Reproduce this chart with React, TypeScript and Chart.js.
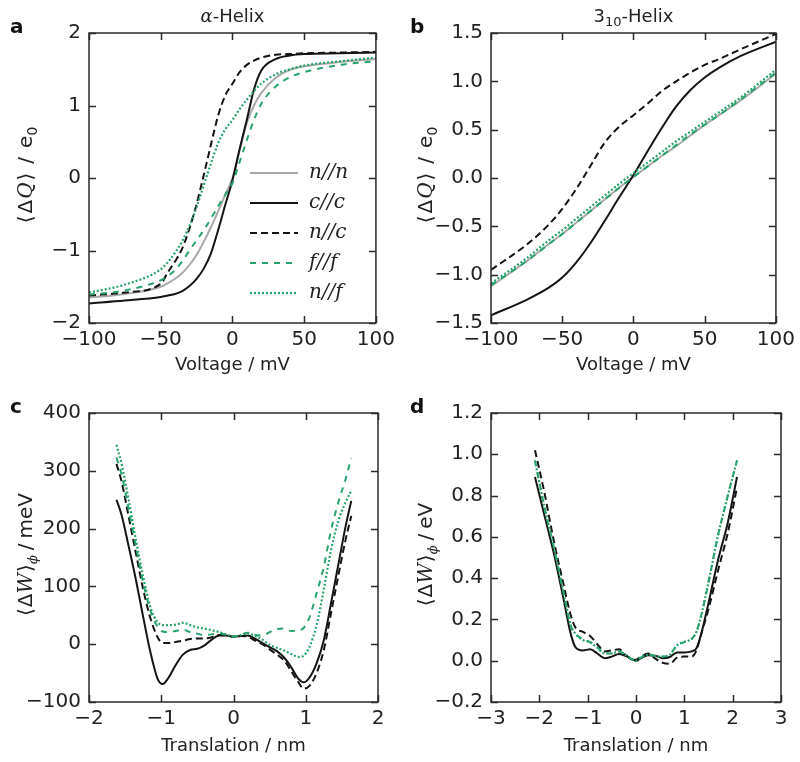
import React, { useEffect, useRef } from 'react';
import { Chart, registerables } from 'chart.js';
Chart.register(...registerables);

// ---------- data ----------
const LABELS = ['n//n', 'c//c', 'n//c', 'f//f', 'n//f'];

// Panel a: alpha-helix, charge vs voltage
const voltA = [-100, -75, -50, -45, -40, -35, -30, -25, -20, -15, -10, -5, 0, 5, 10, 15, 20, 30, 40, 50, 75, 100];
const qA_nn = [-1.65, -1.6, -1.5, -1.45, -1.39, -1.31, -1.2, -1.06, -0.88, -0.68, -0.46, -0.23, 0.0, 0.38, 0.76, 1.0, 1.17, 1.38, 1.49, 1.54, 1.6, 1.64];
const qA_cc = [-1.73, -1.69, -1.64, -1.62, -1.6, -1.56, -1.49, -1.39, -1.25, -1.04, -0.72, -0.37, -0.03, 0.4, 0.8, 1.22, 1.48, 1.64, 1.69, 1.71, 1.72, 1.73];
const qA_nc = [-1.62, -1.58, -1.46, -1.3, -1.15, -0.97, -0.7, -0.36, 0.04, 0.46, 0.86, 1.14, 1.3, 1.46, 1.56, 1.62, 1.66, 1.7, 1.71, 1.72, 1.73, 1.74];
const qA_ff = [-1.61, -1.55, -1.41, -1.35, -1.27, -1.15, -1.0, -0.86, -0.72, -0.56, -0.39, -0.23, -0.07, 0.22, 0.52, 0.8, 1.02, 1.26, 1.39, 1.46, 1.56, 1.61];
const qA_nf = [-1.58, -1.47, -1.26, -1.16, -1.03, -0.87, -0.66, -0.4, -0.1, 0.2, 0.48, 0.67, 0.8, 0.95, 1.08, 1.2, 1.3, 1.43, 1.5, 1.55, 1.61, 1.66];

// Panel b: 3_10-helix, charge vs voltage
const voltB = [-100, -75, -60, -50, -40, -30, -20, -10, 0, 10, 20, 30, 40, 50, 60, 75, 100];
const qB_nn = [-1.12, -0.86, -0.69, -0.58, -0.46, -0.34, -0.22, -0.1, 0.01, 0.12, 0.23, 0.33, 0.44, 0.55, 0.65, 0.8, 1.08];
const qB_cc = [-1.42, -1.26, -1.14, -1.03, -0.87, -0.67, -0.44, -0.2, 0.03, 0.28, 0.52, 0.74, 0.91, 1.04, 1.14, 1.26, 1.41];
const qB_nc = [-0.95, -0.69, -0.49, -0.32, -0.11, 0.13, 0.37, 0.53, 0.65, 0.77, 0.9, 1.0, 1.09, 1.17, 1.23, 1.33, 1.49];
const qB_ff = [-1.11, -0.86, -0.69, -0.58, -0.46, -0.34, -0.22, -0.1, 0.01, 0.12, 0.23, 0.34, 0.45, 0.55, 0.65, 0.81, 1.09];
const qB_nf = [-1.09, -0.83, -0.65, -0.54, -0.42, -0.3, -0.18, -0.06, 0.05, 0.16, 0.27, 0.38, 0.48, 0.58, 0.68, 0.83, 1.12];

// Panel c: alpha-helix, energy (meV) vs translation (nm)
const transC = [-1.62, -1.55, -1.45, -1.35, -1.25, -1.15, -1.05, -0.98, -0.9, -0.8, -0.7, -0.6, -0.5, -0.4, -0.3, -0.2, -0.1, 0, 0.1, 0.2, 0.3, 0.4, 0.5, 0.6, 0.7, 0.8, 0.9, 0.97, 1.05, 1.15, 1.25, 1.35, 1.45, 1.55, 1.63];
const wC_cc = [250, 224, 169, 111, 47, -14, -60, -69, -58, -36, -18, -10, -8, -2, 8, 15, 15, 13, 14, 15, 9, 2, -5, -12, -23, -40, -60, -66, -58, -33, 7, 71, 137, 203, 248];
const wC_nc = [312, 282, 220, 157, 95, 45, 12, 2, 2, 4, 6, 9, 10, 10, 12, 16, 15, 13, 14, 13, 6, 0, -9, -18, -28, -47, -66, -77, -72, -50, -10, 54, 118, 180, 222];
const wC_ff = [323, 294, 232, 169, 106, 58, 30, 22, 21, 23, 25, 21, 18, 16, 17, 19, 16, 13, 16, 20, 16, 15, 21, 26, 27, 23, 24, 28, 46, 88, 134, 197, 245, 285, 322];
const wC_nf = [345, 312, 249, 180, 117, 64, 38, 33, 33, 34, 37, 33, 29, 27, 24, 21, 17, 13, 16, 19, 14, 8, -1, -6, -11, -17, -22, -20, -5, 33, 95, 163, 213, 245, 266];

// Panel d: 3_10-helix, energy (eV) vs translation (nm)
const transD = [-2.09, -1.9, -1.7, -1.5, -1.35, -1.25, -1.1, -0.95, -0.8, -0.65, -0.5, -0.35, -0.2, -0.1, 0, 0.1, 0.25, 0.4, 0.55, 0.7, 0.85, 1.0, 1.15, 1.25, 1.35, 1.5, 1.7, 1.9, 2.09];
const wD_cc = [0.89, 0.71, 0.52, 0.3, 0.13, 0.065, 0.05, 0.055, 0.035, 0.012, 0.02, 0.033, 0.022, 0.008, 0.0, 0.012, 0.026, 0.024, 0.012, 0.018, 0.04, 0.04, 0.045, 0.06, 0.13, 0.28, 0.49, 0.67, 0.89];
const wD_nc = [1.02, 0.82, 0.58, 0.37, 0.22, 0.16, 0.14, 0.12, 0.08, 0.045, 0.05, 0.055, 0.025, 0.01, 0.005, 0.02, 0.035, 0.01, -0.01, -0.015, 0.015, 0.02, 0.02, 0.05, 0.13, 0.25, 0.44, 0.62, 0.84];
const wD_ff = [0.97, 0.75, 0.55, 0.33, 0.17, 0.13, 0.105, 0.09, 0.065, 0.035, 0.035, 0.045, 0.025, 0.01, 0.0, 0.015, 0.032, 0.022, 0.02, 0.03, 0.075, 0.09, 0.105, 0.14, 0.22, 0.38, 0.61, 0.8, 0.97];
const wD_nf = [0.97, 0.75, 0.55, 0.33, 0.17, 0.13, 0.1, 0.09, 0.062, 0.035, 0.035, 0.045, 0.025, 0.01, 0.0, 0.015, 0.03, 0.022, 0.02, 0.03, 0.075, 0.092, 0.105, 0.14, 0.22, 0.38, 0.61, 0.8, 0.97];

// tick values
const ticksVolt = [-100, -50, 0, 50, 100];
const ticksQA = [-2, -1, 0, 1, 2];
const ticksQB = [-1.5, -1.0, -0.5, 0.0, 0.5, 1.0, 1.5];
const ticksTransC = [-2, -1, 0, 1, 2];
const ticksWC = [-100, 0, 100, 200, 300, 400];
const ticksTransD = [-3, -2, -1, 0, 1, 2, 3];
const ticksWD = [-0.2, 0.0, 0.2, 0.4, 0.6, 0.8, 1.0, 1.2];

// ---------- styles ----------
const GREEN = '#27a36c';
const STYLE: Record<string, { color: string; dash: number[]; width: number }> = {
  'n//n': { color: '#a9a9a9', dash: [], width: 2 },
  'c//c': { color: '#141414', dash: [], width: 2 },
  'n//c': { color: '#141414', dash: [7, 4], width: 2 },
  'f//f': { color: GREEN, dash: [6, 6], width: 2 },
  'n//f': { color: GREEN, dash: [2, 2], width: 2.2 },
};
const SANS = '"DejaVu Sans", sans-serif';
const SERIF = '"DejaVu Serif", serif';
const F = (size: number) => `${size}px ${SANS}`;
const FI = (size: number) => `italic ${size}px ${SERIF}`;

type Seg = { t: string; font: string; dy?: number; gap?: number };

function drawRich(ctx: CanvasRenderingContext2D, segs: Seg[], x: number, y: number, rot = 0) {
  ctx.save();
  ctx.translate(x, y);
  if (rot) ctx.rotate(rot);
  let total = 0;
  for (const s of segs) {
    ctx.font = s.font;
    total += ctx.measureText(s.t).width + (s.gap || 0);
  }
  let cx = -total / 2;
  ctx.textBaseline = 'alphabetic';
  ctx.textAlign = 'left';
  ctx.fillStyle = '#222';
  for (const s of segs) {
    ctx.font = s.font;
    cx += s.gap || 0;
    ctx.fillText(s.t, cx, s.dy || 0);
    cx += ctx.measureText(s.t).width;
  }
  ctx.restore();
}

const fmt = (dec: number) => (v: number) => {
  const s = Math.abs(v).toFixed(dec);
  return (v < -1e-9 ? '\u2212' : '') + s;
};

type PanelCfg = {
  letter: string;
  title?: Seg[];
  xTitle: string;
  yTitle: Seg[];
  x: number[];
  series: { label: string; data: number[] }[];
  xMin: number; xMax: number; yMin: number; yMax: number;
  xTicks: number[]; yTicks: number[];
  xDec: number; yDec: number;
  area: { l: number; t: number; r: number; b: number };
  legend?: boolean;
  pos: { left: number; top: number };
};

const W = 400;
const H = 381;

const yTitleQ: Seg[] = [
  { t: '\u27e8', font: F(20) },
  { t: '\u0394', font: F(20), gap: 2 },
  { t: 'Q', font: FI(20), gap: 1 },
  { t: '\u27e9', font: F(20), gap: 2 },
  { t: '/', font: F(20), gap: 9 },
  { t: 'e', font: F(20), gap: 9 },
  { t: '0', font: F(14), dy: 5 },
];
const yTitleW = (unit: string): Seg[] => [
  { t: '\u27e8', font: F(20) },
  { t: '\u0394', font: F(20), gap: 1 },
  { t: 'W', font: FI(20) },
  { t: '\u27e9', font: F(20), gap: 1 },
  { t: '\u03d5', font: FI(13), dy: 5 },
  { t: '/', font: F(20), gap: 5 },
  { t: unit, font: F(20), gap: 5 },
];

const PANELS: PanelCfg[] = [
  {
    letter: 'a',
    title: [{ t: '\u03b1', font: FI(18) }, { t: '-Helix', font: F(18) }],
    xTitle: 'Voltage / mV',
    yTitle: yTitleQ,
    x: voltA,
    series: [
      { label: LABELS[0], data: qA_nn },
      { label: LABELS[1], data: qA_cc },
      { label: LABELS[2], data: qA_nc },
      { label: LABELS[3], data: qA_ff },
      { label: LABELS[4], data: qA_nf },
    ],
    xMin: -100, xMax: 100, yMin: -2, yMax: 2,
    xTicks: ticksVolt, yTicks: ticksQA, xDec: 0, yDec: 0,
    area: { l: 89, t: 33, r: 378, b: 323 },
    legend: true,
    pos: { left: 0, top: 0 },
  },
  {
    letter: 'b',
    title: [{ t: '3', font: F(18) }, { t: '10', font: F(13), dy: 4 }, { t: '-Helix', font: F(18) }],
    xTitle: 'Voltage / mV',
    yTitle: yTitleQ,
    x: voltB,
    series: [
      { label: LABELS[0], data: qB_nn },
      { label: LABELS[1], data: qB_cc },
      { label: LABELS[2], data: qB_nc },
      { label: LABELS[3], data: qB_ff },
      { label: LABELS[4], data: qB_nf },
    ],
    xMin: -100, xMax: 100, yMin: -1.5, yMax: 1.5,
    xTicks: ticksVolt, yTicks: ticksQB, xDec: 0, yDec: 1,
    area: { l: 91, t: 33, r: 381, b: 323 },
    pos: { left: 400, top: 0 },
  },
  {
    letter: 'c',
    xTitle: 'Translation / nm',
    yTitle: yTitleW('meV'),
    x: transC,
    series: [
      { label: LABELS[1], data: wC_cc },
      { label: LABELS[2], data: wC_nc },
      { label: LABELS[3], data: wC_ff },
      { label: LABELS[4], data: wC_nf },
    ],
    xMin: -2, xMax: 2, yMin: -100, yMax: 400,
    xTicks: ticksTransC, yTicks: ticksWC, xDec: 0, yDec: 0,
    area: { l: 89, t: 32, r: 378, b: 321 },
    pos: { left: 0, top: 381 },
  },
  {
    letter: 'd',
    xTitle: 'Translation / nm',
    yTitle: yTitleW('eV'),
    x: transD,
    series: [
      { label: LABELS[1], data: wD_cc },
      { label: LABELS[2], data: wD_nc },
      { label: LABELS[3], data: wD_ff },
      { label: LABELS[4], data: wD_nf },
    ],
    xMin: -3, xMax: 3, yMin: -0.2, yMax: 1.2,
    xTicks: ticksTransD, yTicks: ticksWD, xDec: 0, yDec: 1,
    area: { l: 91, t: 32, r: 381, b: 321 },
    pos: { left: 400, top: 381 },
  },
];

function Panel({ cfg }: { cfg: PanelCfg }) {
  const ref = useRef<HTMLCanvasElement | null>(null);
  useEffect(() => {
    if (!ref.current) return;
    const n = cfg.series.length;
    const datasets = cfg.series.map((s, i) => {
      const st = STYLE[s.label];
      return {
        label: s.label,
        data: cfg.x.map((xv, k) => ({ x: xv, y: s.data[k] })),
        borderColor: st.color,
        backgroundColor: st.color,
        borderWidth: st.width,
        borderDash: st.dash,
        pointRadius: 0,
        fill: false,
        cubicInterpolationMode: 'monotone' as const,
        order: n - i,
      };
    });

    const frame = {
      id: 'frame',
      afterDatasetsDraw(chart: any) {
        const ctx: CanvasRenderingContext2D = chart.ctx;
        const a = chart.chartArea;
        const xs = chart.scales.x;
        const ys = chart.scales.y;
        ctx.save();
        ctx.strokeStyle = '#2a2a2a';
        ctx.lineWidth = 1.5;
        ctx.setLineDash([]);
        ctx.strokeRect(a.left, a.top, a.right - a.left, a.bottom - a.top);
        const TL = 7;
        ctx.beginPath();
        for (const t of xs.ticks) {
          const px = Math.round(xs.getPixelForValue(t.value)) + 0.5;
          ctx.moveTo(px, a.bottom); ctx.lineTo(px, a.bottom - TL);
          ctx.moveTo(px, a.top); ctx.lineTo(px, a.top + TL);
        }
        for (const t of ys.ticks) {
          const py = Math.round(ys.getPixelForValue(t.value)) + 0.5;
          ctx.moveTo(a.left, py); ctx.lineTo(a.left + TL, py);
          ctx.moveTo(a.right, py); ctx.lineTo(a.right - TL, py);
        }
        ctx.stroke();

        const cxm = (a.left + a.right) / 2;
        const cym = (a.top + a.bottom) / 2;
        // panel letter
        ctx.fillStyle = '#111';
        ctx.font = `bold 20px ${SANS}`;
        ctx.textAlign = 'left';
        ctx.textBaseline = 'alphabetic';
        ctx.fillText(cfg.letter, 10, a.top);
        // title
        if (cfg.title) drawRich(ctx, cfg.title, cxm, 22);
        // axis titles
        drawRich(ctx, [{ t: cfg.xTitle, font: F(18) }], cxm, 370);
        drawRich(ctx, cfg.yTitle, 32, cym - 3, -Math.PI / 2);

        // legend
        if (cfg.legend) {
          const x0 = 250, x1 = 298, tx = 309;
          chart.data.datasets.forEach((ds: any, i: number) => {
            const y = 173 + i * 30;
            ctx.beginPath();
            ctx.strokeStyle = ds.borderColor;
            ctx.lineWidth = ds.borderWidth;
            ctx.setLineDash(ds.borderDash);
            ctx.moveTo(x0, y); ctx.lineTo(x1, y);
            ctx.stroke();
            ctx.setLineDash([]);
            ctx.fillStyle = '#222';
            ctx.font = FI(20);
            ctx.textBaseline = 'middle';
            ctx.fillText(ds.label, tx, y);
          });
        }
        ctx.restore();
      },
    };

    const chart = new Chart(ref.current, {
      type: 'line',
      data: { datasets },
      options: {
        responsive: false,
        animation: false,
        events: [],
        layout: { padding: { top: cfg.area.t, right: W - cfg.area.r, left: 0, bottom: 0 } },
        plugins: { legend: { display: false }, tooltip: { enabled: false }, title: { display: false } },
        scales: {
          x: {
            type: 'linear',
            min: cfg.xMin,
            max: cfg.xMax,
            afterBuildTicks: (s: any) => { s.ticks = cfg.xTicks.map((v) => ({ value: v })); },
            afterFit: (s: any) => { s.height = H - cfg.area.b; },
            grid: { display: false, drawTicks: false },
            border: { display: false },
            ticks: { font: { family: SANS, size: 20 }, color: '#222', padding: 5, maxRotation: 0, autoSkip: false, callback: fmt(cfg.xDec) as any },
          },
          y: {
            type: 'linear',
            min: cfg.yMin,
            max: cfg.yMax,
            afterBuildTicks: (s: any) => { s.ticks = cfg.yTicks.map((v) => ({ value: v })); },
            afterFit: (s: any) => { s.width = cfg.area.l; },
            grid: { display: false, drawTicks: false },
            border: { display: false },
            ticks: { font: { family: SANS, size: 20 }, color: '#222', padding: 8, autoSkip: false, callback: fmt(cfg.yDec) as any },
          },
        },
      },
      plugins: [frame],
    });
    return () => chart.destroy();
  }, [cfg]);

  return (
    <canvas
      ref={ref}
      width={W}
      height={H}
      style={{ position: 'absolute', left: cfg.pos.left, top: cfg.pos.top, width: W, height: H }}
    />
  );
}

export default function App() {
  return (
    <div style={{ position: 'absolute', left: 0, top: 0, width: 800, height: 762, background: '#fff' }}>
      {PANELS.map((p) => (
        <Panel key={p.letter} cfg={p} />
      ))}
    </div>
  );
}
